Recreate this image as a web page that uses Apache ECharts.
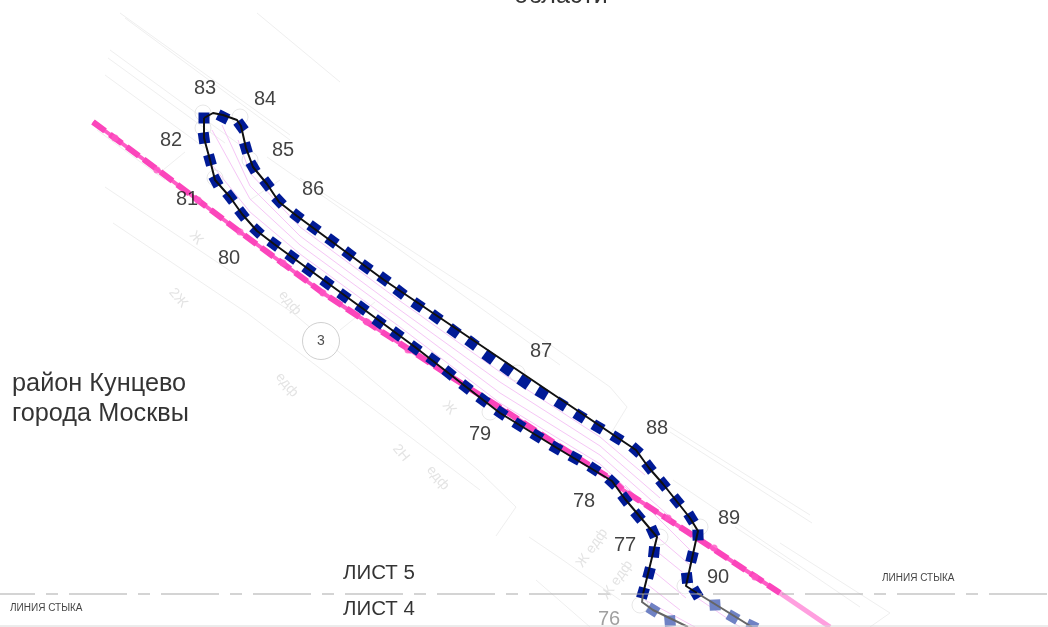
<!DOCTYPE html>
<html><head><meta charset="utf-8">
<style>html,body{margin:0;padding:0;background:#fff}#c{width:1048px;height:627px;filter:blur(0.65px)}</style>
<script src="https://cdn.jsdelivr.net/npm/echarts@6/dist/echarts.min.js"></script>
</head><body><div id="c"></div>
<script>
const boundary = [[204,118],[204,138],[210,160],[215,180],[230,197],[242,214],[257,231],[274,244],[362,308],[415,347],[465,386],[500,413],[557,448],[612,481],[625,499],[657,537],[643,594]];
const boundaryTop = [[204,118],[213,113],[223,115],[237,120],[241,126],[246,148],[253,167],[267,184],[279,202],[297,216],[384,280],[618,438],[636,450],[649,468],[663,484],[690,518],[698,531],[686,586],[697,593]];
const boundaryFadeA = [[643,594],[642,602],[653,610],[688,627]];
const boundaryFadeB = [[697,593],[752,627]];
const squaresLow = [[204,118],[204,138],[210,160],[216,181],[230,197],[242,214],[257,231],[274,244],[292,257],[309,270],[327,283],[344,296],[362,308],[379,322],[397,334],[415,348],[433,360],[449,373],[466,387],[483,400],[501,413],[519,425],[537,436],[556,448],[575,458],[594,469],[612,482],[625,499],[638,516],[653,532],[654,552],[649,573],[643,593]];
const squaresTop = [[223,117],[241,126],[246,148],[253,167],[267,184],[279,201],[297,216],[314,228],[332,241],[349,254],[366,267],[384,279],[400,292],[418,305],[436,317],[454,331],[472,343],[489,357],[507,369],[524,382],[542,393],[561,404],[580,416],[598,427],[617,438],[636,450],[649,467],[663,484],[677,501],[691,518],[698,535],[692,557],[687,578],[696,593]];
const squaresFade = [[653,610],[670,621],[715,605],[733,617],[752,626]];
const pinkLine = [[93,122],[158,170],[240,232],[323,293],[367,322],[410,350],[453,378],[507,412],[573,455],[613,480],[623,490],[700,540],[780,593]];
const pinkFade = [[780,593],[830,627]];
const pinkDots = [[115,138],[157,170],[198,200],[240,232],[283,263],[323,293],[367,322],[408,350],[668,518],[714,548],[755,577]];
const hatch = [
 [[238,140],[250,173],[300,227],[400,301],[500,372],[600,437],[645,475]],
 [[222,125],[250,186],[300,236],[400,310],[500,382],[600,446],[660,498]],
 [[212,130],[250,199],[300,245],[400,318],[500,393],[600,455],[668,515]],
 [[212,165],[250,212],[300,254],[400,327],[500,403],[600,464],[650,510]],
 [[640,500],[694,540]],[[625,485],[690,550]],
 [[655,535],[690,565]],[[655,550],[686,575]],[[652,570],[686,598]],[[648,585],[680,610]],[[645,600],[695,627]],[[690,593],[740,627]]
];
const grayLines = [
 [[120,13],[290,135]],[[125,18],[290,140]],[[110,50],[240,145]],[[108,58],[225,143]],[[105,75],[205,148]],
 [[257,13],[340,82]],
 [[300,178],[487,300],[610,387],[627,407],[610,435]],[[267,157],[400,250],[560,365]],
 [[670,427],[810,515]],[[670,432],[812,523]],
 [[673,480],[860,607]],[[780,543],[890,613],[870,627]],[[735,527],[800,570]],
 [[105,187],[293,313]],[[113,223],[247,313]],[[97,130],[165,180]],
 [[293,313],[478,470],[516,507],[496,536]],[[247,313],[480,490]],
 [[529,537],[560,558],[620,600]],[[536,580],[590,627]],[[340,330],[375,302]],
 [[157,175],[185,152]],[[250,200],[280,180]]
];
const vertexRings = [[203,113],[240,117],[250,160],[215,178],[203,128],[700,527],[685,586],[660,537],[640,605],[517,373],[490,412]];
const vertexLabels = [['83',205,88],['84',265,99],['82',171,140],['85',283,150],['81',187,199],['86',313,189],['80',229,258],['87',541,351],['79',480,434],['88',657,428],['78',584,501],['89',729,518],['77',625,545],['90',718,577]];
const fadedLabels = [['76',609,619]];
const placeTexts = [['район Кунцево',12,384],['города Москвы',12,414]];
const sheetTexts = [['ЛИСТ 5',343,573],['ЛИСТ 4',343,609]];
const seamTexts = [['ЛИНИЯ СТЫКА',10,608],['ЛИНИЯ СТЫКА',882,578]];
const topTexts = [['области',561,0]];
const buildingTexts = [['Ж',196,238,-50],['2Ж',178,298,-50],['едф',290,303,-50],['едф',287,385,-50],['Ж',449,408,-50],['2Н',401,453,-50],['едф',438,478,-50],['Ж едф',592,548,55],['Ж едф',617,580,55]];
const seamY = [[0,594],[1048,594]];
const sheetEdge = [[0,626],[1048,626]];
const circleThree = [[321,341]];

const line = (pts,color,width,z,type) => ({type:'line',data:pts,symbol:'none',silent:true,z,
  lineStyle:{color,width,type:type||'solid',cap:'butt',join:'round'}});
const turned = (pts,i) => {
  const a=pts[Math.max(i-1,0)], b=pts[Math.min(i+1,pts.length-1)];
  return -Math.atan2(b[1]-a[1],b[0]-a[0])*180/Math.PI;
};
const squares = (pts,color,z) => ({type:'scatter',symbol:'rect',symbolSize:11,z,silent:true,itemStyle:{color,opacity:1},
  data:pts.map((p,i)=>({value:p,symbolRotate:turned(pts,i)}))});
const texts = (rows,size,color,align,extra) => ({type:'scatter',silent:true,z:20,symbolSize:0,
  data:rows.map(r=>({value:[r[1],r[2]],name:r[0],label:{rotate:r[3]||0}})),
  label:Object.assign({show:true,position:'inside',formatter:p=>p.name,fontFamily:'Liberation Sans',fontSize:size,color,align,verticalAlign:'middle'},extra||{})});

const series = [
  ...grayLines.map(l=>line(l,'#efefef',1,1)),
  ...hatch.map(l=>line(l,'#f6c6f6',1,2)),
  line(pinkLine,'#ff5cc6',4,3),
  line(pinkLine,'#fb45bb',6,3,[15,6]),
  line(pinkFade,'#ff9fdf',5,3),
  {type:'scatter',data:pinkDots,symbolSize:7,itemStyle:{color:'#ff55c4'},z:4,silent:true},
  {type:'scatter',data:vertexRings,symbolSize:16,itemStyle:{color:'transparent',borderColor:'#e2e2e2',borderWidth:1},z:2,silent:true},
  {type:'scatter',data:circleThree,symbolSize:37,itemStyle:{color:'#fff',borderColor:'#c4c4c4',borderWidth:1},z:5,silent:true,
    label:{show:true,position:'inside',formatter:'3',fontFamily:'Liberation Sans',fontSize:14,color:'#222'}},
  squares(squaresLow,'#001a96',6),
  squares(squaresTop,'#001a96',6),
  squares(squaresFade,'#6f82c4',6),
  line(boundary,'#111',2,7),
  line(boundaryTop,'#111',2,7),
  line(boundaryFadeA,'#666',2,7),
  line(boundaryFadeB,'#666',2,7),
  line(seamY,'#aaaaaa',1.2,8,[58,11,12,11]),
  line(sheetEdge,'#d8d8d8',1,8),
  texts(vertexLabels,20,'#111','center'),
  texts(fadedLabels,20,'#888','center'),
  texts(placeTexts,25.3,'#000','left'),
  texts(sheetTexts,20.5,'#000','left'),
  texts(seamTexts,10,'#111','left'),
  texts(topTexts,25,'#000','center',{offset:[0,-4]}),
  texts(buildingTexts,14,'#dcdcdc','center')
];
series.filter(s=>s.lineStyle&&Array.isArray(s.lineStyle.type)&&s.lineStyle.type.length===4).forEach(s=>s.lineStyle.dashOffset=23);

const chart = echarts.init(document.getElementById('c'),null,{renderer:'canvas'});
chart.setOption({animation:false,backgroundColor:'#fff',
  grid:{left:0,right:0,top:0,bottom:0},
  xAxis:{type:'value',min:0,max:1048,show:false},
  yAxis:{type:'value',min:0,max:627,inverse:true,show:false},
  tooltip:{show:false},legend:{show:false},series});
</script></body></html>
